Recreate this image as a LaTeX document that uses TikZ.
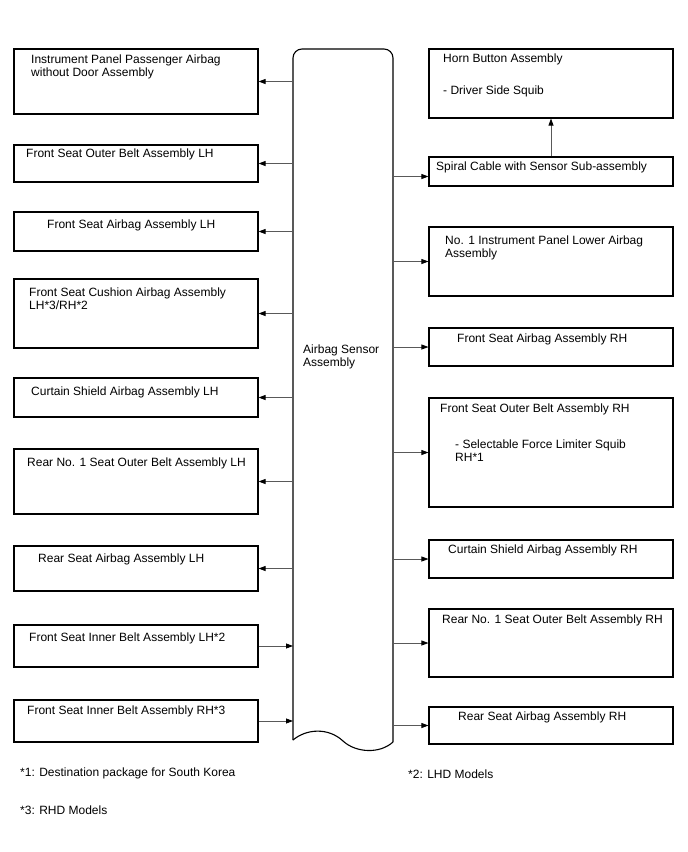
\documentclass[tikz,border=0pt]{standalone}
\usepackage{fontspec}
\setmainfont{Liberation Sans}
\usetikzlibrary{arrows.meta}

\begin{document}
\begin{tikzpicture}[x=1pt, y=-1pt,
  every node/.style={font=\fontsize{12}{13}\selectfont},
  unit/.style={draw, line width=1.1pt, minimum width=244pt, inner sep=0pt},
  lbl/.style={anchor=north west, align=left, inner sep=0pt},
  conn/.style={draw=black!65, line width=0.8pt, -{Triangle[length=7pt, width=5pt, black]}}]
\useasboundingbox (0,0) rectangle (688,852);
% airbag sensor assembly (wavy bottom)
\draw[line width=1.1pt, rounded corners=9pt] (293,740) -- (293,49) -- (393,49) -- (393,742);
\draw[line width=1.1pt] (293,740) .. controls (306,729) and (328,727) .. (343,741) .. controls (356,753) and (380,754) .. (393,742);
\coordinate (ecuW) at (293,400);
\coordinate (ecuE) at (393,400);
\node[lbl] (ecu) at (303,344.5) {Airbag Sensor\\Assembly};

% left column
\node[unit, minimum height=65pt] (ipax) at (136,81.5) {};
\node[lbl] at (31,54.5) {Instrument Panel Passenger Airbag\\without Door Assembly};
\node[unit, minimum height=37pt] (fobl) at (136,163.5) {};
\node[lbl] at (26,149) {Front Seat Outer Belt Assembly LH};
\node[unit, minimum height=39pt] (fsal) at (136,231.5) {};
\node[lbl] at (47,219.5) {Front Seat Airbag Assembly LH};
\node[unit, minimum height=69pt] (fcus) at (136,313.5) {};
\node[lbl] at (29,287.5) {Front Seat Cushion Airbag Assembly\\LH*3/RH*2};
\node[unit, minimum height=39pt] (csal) at (136,397.5) {};
\node[lbl] at (31,386.5) {Curtain Shield Airbag Assembly LH};
\node[unit, minimum height=65pt] (robl) at (136,481.5) {};
\node[lbl] at (27,457.5) {Rear No. 1 Seat Outer Belt Assembly LH};
\node[unit, minimum height=45pt] (rsal) at (136,568.5) {};
\node[lbl] at (38,553.5) {Rear Seat Airbag Assembly LH};
\node[unit, minimum height=42pt] (fibl) at (136,646) {};
\node[lbl] at (29,632.5) {Front Seat Inner Belt Assembly LH*2};
\node[unit, minimum height=42pt] (fibr) at (136,721) {};
\node[lbl] at (27,705.5) {Front Seat Inner Belt Assembly RH*3};

% right column
\node[unit, minimum height=69pt] (horn) at (551,83.5) {};
\node[lbl] at (443,53.5) {Horn Button Assembly\\[19pt]- Driver Side Squib};
\node[unit, minimum height=29pt] (spir) at (551,171.5) {};
\node[lbl] at (436,161.5) {Spiral Cable with Sensor Sub-assembly};
\node[unit, minimum height=69pt] (iplo) at (551,261.5) {};
\node[lbl] at (445,235.5) {No. 1 Instrument Panel Lower Airbag\\Assembly};
\node[unit, minimum height=38pt] (fsar) at (551,347) {};
\node[lbl] at (457,333.5) {Front Seat Airbag Assembly RH};
\node[unit, minimum height=109pt] (fobr) at (551,452.5) {};
\node[lbl] at (440,403.5) {Front Seat Outer Belt Assembly RH};
\node[lbl] at (455,439.5) {- Selectable Force Limiter Squib\\RH*1};
\node[unit, minimum height=38pt] (csar) at (551,559) {};
\node[lbl] at (448,544.5) {Curtain Shield Airbag Assembly RH};
\node[unit, minimum height=68pt] (robr) at (551,643) {};
\node[lbl] at (442,614.5) {Rear No. 1 Seat Outer Belt Assembly RH};
\node[unit, minimum height=37pt] (rsar) at (551,725.5) {};
\node[lbl] at (458,711.5) {Rear Seat Airbag Assembly RH};

% connectors
\foreach \u in {ipax,fobl,fsal,fcus,csal,robl,rsal}
  \draw[conn] (ecuW |- \u.east) -- (\u.east);
\foreach \u in {fibl,fibr}
  \draw[conn] (\u.east) -- (ecuW |- \u.east);
\foreach \u in {iplo,fsar,fobr,csar,robr,rsar}
  \draw[conn] (ecuE |- \u.west) -- (\u.west);
\draw[conn] ([yshift=-5pt]spir.west) ++(-36,0) -- ++(36,0);
\draw[conn] (spir.north) -- (horn.south);

% notes
\node[lbl] (n1) at (20,767.5) {*1: Destination package for South Korea};
\node[lbl] (n2) at (408,769.5) {*2: LHD Models};
\node[lbl] (n3) at (20,805.5) {*3: RHD Models};
\end{tikzpicture}
\end{document}
